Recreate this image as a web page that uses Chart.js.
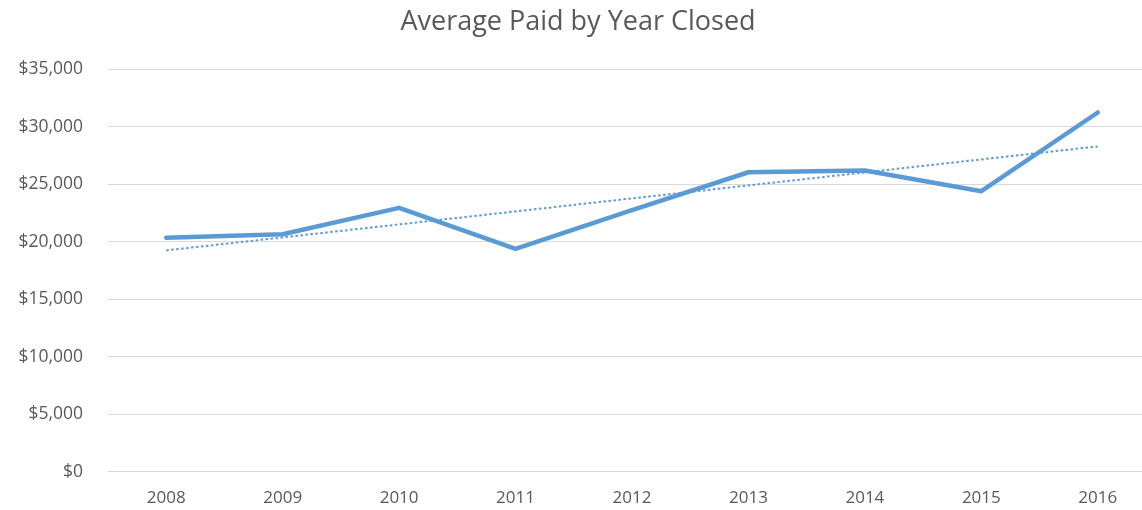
<!doctype html>
<html>
  <head>
    <title>Average Paid by Year Closed</title>
    <style>
      html, body { margin: 0; padding: 0; background: #fff; overflow: hidden; }
      #wrap { width: 1160px; height: 524px; }
    </style>
  </head>
  <body>
    <div id="wrap">
      <canvas id="myChart"></canvas>
    </div>
  </body>
  <script src="https://cdn.jsdelivr.net/npm/chart.js"></script>
  <script>
    const years = ['2008', '2009', '2010', '2011', '2012', '2013', '2014', '2015', '2016'];
    const averagePaid = [20350, 20650, 22950, 19375, 22750, 26050, 26200, 24400, 31250];
    // linear trendline, first and last year
    const trendYears = ['2008', '2016'];
    const trendValues = [19250, 28300];

    const blue = '#5b9bd5';
    const grey = '#595959';

    const ctx = document.getElementById('myChart');
    const chart = new Chart(ctx, {
      type: 'line',
      data: {
        labels: years,
        datasets: [{
          label: 'Linear (Average Paid)',
          data: trendYears.map((y, i) => ({ x: y, y: trendValues[i] })),
          borderColor: blue,
          borderWidth: 2,
          borderDash: [2.5, 2.5],
          pointRadius: 0,
          order: 0
        }, {
          label: 'Average Paid',
          data: averagePaid,
          borderColor: blue,
          borderWidth: 4.5,
          borderJoinStyle: 'round',
          borderCapStyle: 'round',
          pointRadius: 0,
          tension: 0,
          order: 1
        }]
      },
      options: {
        responsive: true,
        maintainAspectRatio: false,
        animation: false,
        layout: { padding: { left: 0, right: 4, top: 0, bottom: 0 } },
        plugins: {
          legend: { display: false },
          tooltip: { enabled: false },
          title: {
            display: true,
            text: 'Average Paid by Year Closed',
            color: grey,
            font: { family: 'Open Sans', size: 27, weight: 'normal' },
            padding: { top: 6, bottom: 31 }
          }
        },
        scales: {
          x: {
            offset: true,
            grid: { display: false, drawTicks: false },
            border: { display: false },
            ticks: {
              color: grey,
              font: { family: 'Open Sans', size: 17 },
              padding: 16
            }
          },
          y: {
            min: 0,
            max: 35000,
            afterFit: (scale) => { scale.width = 108; },
            grid: { color: '#d9d9d9', lineWidth: 1, drawTicks: false },
            border: { display: false },
            ticks: {
              stepSize: 5000,
              color: grey,
              font: { family: 'Open Sans', size: 17.5 },
              padding: 25,
              callback: (v) => '$' + v.toLocaleString('en-US')
            }
          }
        }
      }
    });
  </script>
</html>
